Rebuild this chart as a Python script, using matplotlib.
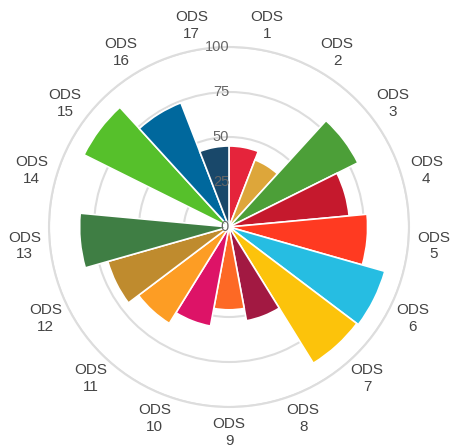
import numpy as np
import matplotlib
matplotlib.use("Agg")
import matplotlib.pyplot as plt

categories = [f"ODS\n{i}" for i in range(1, 18)]
values = [45, 40, 80, 67, 77, 90, 89, 53, 46, 56, 63, 70, 83, 0, 90, 74, 45]
colors = ["#E5243B", "#DDA63A", "#4C9F38", "#C5192D", "#FF3A21", "#26BDE2",
          "#FCC30B", "#A21942", "#FD6925", "#DD1367", "#FD9D24", "#BF8B2E",
          "#3F7E44", "#0A97D9", "#56C02B", "#00689D", "#19486A"]
rticks = [0, 25, 50, 75, 100]

plt.rcParams['font.family'] = ['Liberation Sans', 'DejaVu Sans']

fig = plt.figure(figsize=(4.53, 4.47), dpi=100)
W, H = 453, 447
cx, cy, R = 229, 227, 180
ax = fig.add_axes([(cx - R) / W, (H - cy - R) / H, 2 * R / W, 2 * R / H], projection='polar')
ax.set_theta_zero_location('N')
ax.set_theta_direction(-1)

n = len(values)
width = 2 * np.pi / n
theta = np.arange(n) * width + width / 2
ax.bar(theta, values, width=width, color=colors, edgecolor='white', linewidth=1.2, zorder=2)

ax.set_ylim(0, 100)
ax.set_yticks(rticks[1:])
ax.set_yticklabels([])
ax.set_xticks([])
ax.yaxis.grid(True, color='#dddddd', linewidth=1.5, zorder=0)
ax.xaxis.grid(False)
ax.spines['polar'].set_color('#dddddd')
ax.spines['polar'].set_linewidth(1.5)
ax.set_axisbelow(True)

for r in rticks:
    ax.text(0, r, str(r), ha='right', va='center', fontsize=10.5, color='#666666', zorder=3)

for t, lab in zip(theta, categories):
    ax.text(t, 114, lab, ha='center', va='center', fontsize=11, color='#444444',
            linespacing=1.25)

fig.savefig('out.png', dpi=100)
